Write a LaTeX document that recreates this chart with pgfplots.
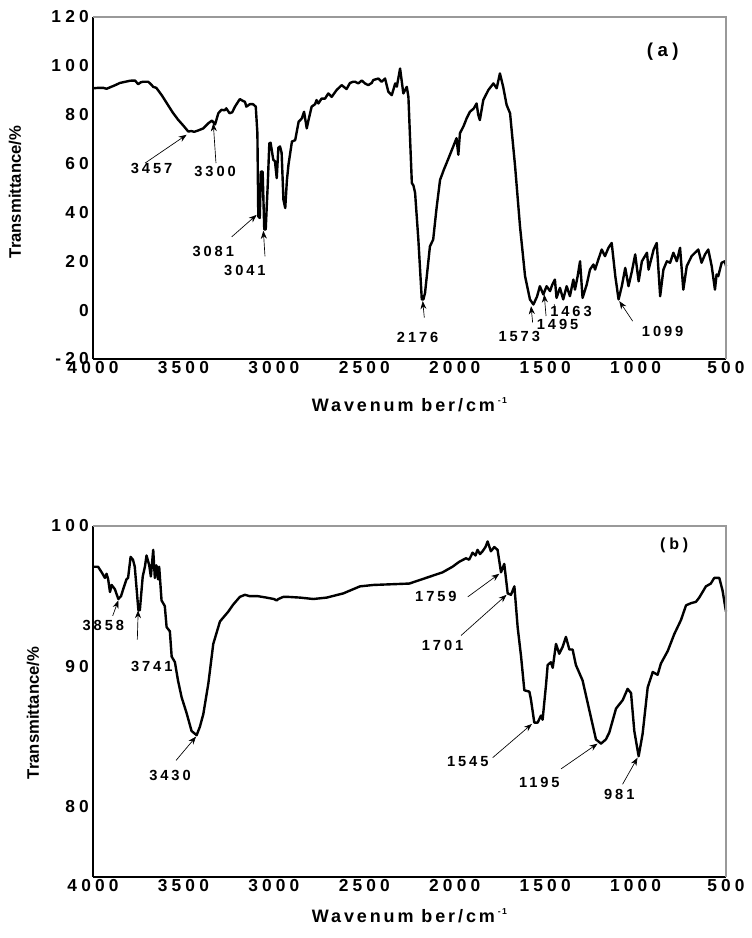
\documentclass[border=0pt]{standalone}
\usepackage{fontspec}
\setmainfont{Liberation Sans}
\newfontfamily\spc{Liberation Sans}[LetterSpace=24]
\newfontfamily\spa{Liberation Sans}[LetterSpace=20]
\newfontfamily\spx{Liberation Sans}[LetterSpace=16]
\usepackage{pgfplots}
\pgfplotsset{compat=1.18}
\usetikzlibrary{arrows.meta}
\newcommand\ann{\spa\bfseries\fontsize{11}{12}\selectfont}
\tikzset{arr/.style={-{Stealth[length=6pt,width=4.5pt]}, line width=0.5pt, black}}
\pgfplotsset{
  ftir/.style={
    scale only axis, width=474.75pt, clip=false,
    x dir=reverse, xmin=500, xmax=4000, xtick={500,1000,...,4000},
    axis x line*=bottom, axis y line*=left,
    axis line style={line width=1.2pt, black},
    major tick length=0pt,
    tick label style={font=\spc\bfseries\fontsize{13}{15}\selectfont},
    /pgf/number format/assume math mode=true,
    /pgf/number format/1000 sep={},
    xticklabel style={inner sep=0pt, anchor=north, yshift=-1.5pt},
    yticklabel style={inner sep=0pt, anchor=east, xshift=-3pt},
    ylabel={\bfseries\fontsize{12.5}{14}\selectfont Transmittance/\%},
    xlabel={\spx\bfseries\fontsize{13.5}{15}\selectfont Wavenum ber/cm\,\raisebox{0.8ex}{\fontsize{6.5}{7}\selectfont -1}},
    after end axis/.code={\draw[black!40, line width=0.8pt] (rel axis cs:0,1) -- (rel axis cs:1,1) -- (rel axis cs:1,0);},
  },
  spec/.style={black, line width=1.8pt, line join=round, mark=none},
}
\begin{document}
\begin{tikzpicture}
\path[use as bounding box] (0,0) rectangle (564pt,703.5pt);
% ---------------- panel (a)
\begin{axis}[ftir, at={(69.75pt,434.25pt)}, anchor=south west, height=256.5pt,
  ymin=-20, ymax=120, ytick={-20,0,...,120},
  ylabel style={at={(axis description cs:0,0.5)}, anchor=center, yshift=58.5pt, xshift=-3pt},
  xlabel style={at={(axis description cs:0.5,0)}, anchor=center, yshift=-34.5pt}]
\addplot[spec] coordinates {
(4000,90.8)(3970,91.0)(3943,91.0)(3925,90.6)(3906,91.2)(3880,92.0)(3851,93.0)(3820,93.5)
(3795,93.9)(3768,94.0)(3750,92.5)(3735,93.3)(3722,93.5)(3695,93.5)(3680,92.5)(3667,91.4)
(3650,91.0)(3620,88.0)(3590,84.5)(3560,81.0)(3530,78.0)(3500,75.5)(3473,73.1)(3457,73.3)
(3440,73.0)(3420,73.5)(3390,74.4)(3362,76.5)(3342,77.6)(3325,76.0)(3307,80.6)(3290,82.0)
(3272,81.8)(3263,82.6)(3245,80.6)(3230,81.0)(3215,83.3)(3188,86.4)(3170,85.6)(3160,85.3)
(3152,83.3)(3133,84.3)(3115,84.3)(3100,83.3)(3091,72.4)(3086,38.4)(3078,37.7)(3071,56.7)
(3062,56.7)(3053,33.0)(3045,33.0)(3034,51.0)(3025,68.3)(3018,68.5)(3003,61.5)(2994,61.0)
(2984,54.0)(2975,66.5)(2966,67.0)(2957,64.4)(2947,45.2)(2937,41.8)(2928,53.0)(2919,59.6)
(2900,69.0)(2882,69.6)(2863,77.1)(2845,78.5)(2833,81.2)(2818,74.4)(2809,77.6)(2791,83.3)
(2772,84.3)(2764,86.0)(2754,84.6)(2736,86.6)(2717,86.6)(2699,88.7)(2680,87.3)(2653,90.1)
(2625,92.1)(2598,90.5)(2579,93.0)(2561,93.5)(2551,93.5)(2533,92.8)(2514,94.0)(2496,92.8)
(2478,92.1)(2459,93.0)(2450,94.2)(2422,94.8)(2404,93.5)(2385,94.8)(2367,89.4)(2348,88.0)
(2329,92.8)(2320,91.5)(2302,98.9)(2284,88.7)(2265,91.4)(2256,87.3)(2237,52.0)(2228,51.0)
(2219,48.0)(2201,28.9)(2182,4.4)(2173,4.4)(2164,7.1)(2137,26.1)(2119,28.9)(2100,42.0)
(2081,53.3)(2060,57.5)(2045,60.2)(2008,67.0)(1990,70.4)(1980,63.6)(1971,72.4)(1950,75.5)
(1934,78.5)(1916,81.2)(1895,82.5)(1879,84.6)(1870,80.0)(1861,77.8)(1842,86.0)(1814,90.1)
(1786,92.8)(1768,90.8)(1750,96.9)(1732,91.4)(1713,84.0)(1694,80.6)(1666,58.8)(1639,34.3)
(1611,13.9)(1584,4.4)(1565,2.3)(1545,5.5)(1529,9.8)(1510,6.4)(1492,9.8)(1473,7.8)
(1460,10.5)(1446,12.5)(1437,5.0)(1418,9.1)(1400,4.4)(1381,9.8)(1363,5.7)(1344,12.5)
(1335,8.4)(1320,14.0)(1307,20.0)(1293,5.0)(1270,10.5)(1252,16.6)(1233,18.7)(1224,16.6)
(1206,20.7)(1187,24.8)(1169,22.1)(1150,25.5)(1132,27.5)(1112,13.9)(1094,4.4)(1076,9.8)
(1057,17.3)(1039,9.8)(1020,16.0)(1002,22.8)(983,11.8)(965,20.0)(937,23.5)(928,16.6)
(900,24.8)(883,27.5)(864,5.7)(846,16.6)(827,20.0)(809,19.4)(791,23.5)(772,20.0)
(754,25.5)(736,8.4)(717,18.0)(690,22.1)(671,23.5)(653,24.8)(635,19.4)(616,22.8)
(598,24.8)(579,18.0)(561,8.4)(552,14.6)(543,13.9)(524,19.4)(506,20.0)(500,18.0)
};
\draw[arr] (axis cs:3712,60.2) -- (axis cs:3482,71.8);
\draw[arr] (axis cs:3320,60.2) -- (axis cs:3335,76.5);
\draw[arr] (axis cs:3233,30) -- (axis cs:3095,39);
\draw[arr] (axis cs:3049,22) -- (axis cs:3058,32.5);
\draw[arr] (axis cs:2168,-3.1) -- (axis cs:2177,3.7);
\draw[arr] (axis cs:1569,-5.1) -- (axis cs:1578,1.6);
\draw[arr] (axis cs:1495,-2.4) -- (axis cs:1505,6.4);
\draw[line width=0.4pt] (axis cs:1443,-0.5) -- (axis cs:1450,2.5);
\draw[arr] (axis cs:1016,-4.5) -- (axis cs:1090,3.7);
\node[font=\ann] at (axis cs:3676,58.1) {3457};
\node[font=\ann] at (axis cs:3325,56.7) {3300};
\node[font=\ann] at (axis cs:3335,24.1) {3081};
\node[font=\ann] at (axis cs:3160,16.3) {3041};
\node[font=\ann] at (axis cs:2205,-11.3) {2176};
\node[font=\ann] at (axis cs:1643,-10.6) {1573};
\node[font=\ann] at (axis cs:1431,-5.8) {1495};
\node[font=\ann] at (axis cs:1357,-0.6) {1463};
\node[font=\ann] at (axis cs:850,-8.6) {1099};
\node[font=\spc\bfseries\fontsize{14}{16}\selectfont] at (axis cs:850,105.7) {(a)};
\end{axis}
% ---------------- panel (b)
\begin{axis}[ftir, at={(69.75pt,45.75pt)}, anchor=south west, height=263.25pt,
  ymin=75, ymax=100, ytick={80,90,100},
  ylabel style={at={(axis description cs:0,0.5)}, anchor=center, yshift=45pt, xshift=-8.6pt},
  xlabel style={at={(axis description cs:0.5,0)}, anchor=center, yshift=-29pt}]
\addplot[spec] coordinates {
(4000,97.1)(3972,97.1)(3952,96.7)(3934,96.3)(3925,96.6)(3916,96.2)(3906,95.3)(3897,95.8)
(3879,95.5)(3860,94.8)(3845,95.0)(3833,95.5)(3815,96.2)(3806,96.3)(3792,97.8)(3779,97.6)
(3769,97.1)(3749,94.0)(3741,94.0)(3725,96.4)(3713,97.1)(3704,97.9)(3689,97.2)(3680,96.4)
(3667,98.3)(3658,96.3)(3649,97.2)(3640,96.2)(3634,97.1)(3621,94.7)(3603,94.3)(3593,92.8)
(3575,92.5)(3565,90.7)(3547,90.3)(3530,89.0)(3510,87.8)(3483,86.7)(3455,85.4)(3427,85.1)
(3409,85.7)(3390,86.6)(3362,88.8)(3335,91.6)(3298,93.2)(3252,93.9)(3225,94.4)(3188,94.95)
(3160,95.1)(3133,95.0)(3087,95.0)(3041,94.9)(3000,94.8)(2984,94.7)(2975,94.8)(2948,94.95)
(2920,94.95)(2855,94.9)(2782,94.8)(2708,94.9)(2616,95.2)(2524,95.7)(2450,95.8)(2251,95.9)
(2067,96.7)(2012,97.1)(1975,97.45)(1938,97.7)(1920,97.6)(1901,98.1)(1885,97.9)(1874,98.3)
(1860,98.0)(1846,98.2)(1830,98.5)(1818,98.9)(1800,98.2)(1781,98.5)(1763,98.3)(1744,96.7)
(1726,97.3)(1707,95.2)(1689,95.1)(1670,95.7)(1652,92.8)(1633,90.7)(1615,88.3)(1587,88.2)
(1578,87.6)(1560,86.0)(1541,86.0)(1523,86.5)(1514,86.2)(1495,88.7)(1486,90.1)(1468,90.3)
(1458,89.9)(1440,91.6)(1422,90.9)(1403,91.4)(1385,92.1)(1366,91.2)(1348,91.2)(1330,90.1)
(1293,89.0)(1256,86.9)(1219,84.8)(1191,84.5)(1164,84.8)(1145,85.3)(1108,87.0)(1071,87.6)
(1044,88.4)(1025,88.1)(1007,85.4)(983,83.6)(961,85.2)(933,88.5)(905,89.6)(878,89.4)
(860,90.2)(822,91.1)(786,92.3)(749,93.3)(721,94.35)(694,94.5)(666,94.6)(648,94.9)
(611,95.7)(584,95.9)(565,96.3)(537,96.3)(519,95.4)(500,93.9)
};
\draw[arr] (axis cs:3891,93.6) -- (axis cs:3860,94.7);
\draw[arr] (axis cs:3755,91.9) -- (axis cs:3750,94.0);
\draw[arr] (axis cs:3541,83.3) -- (axis cs:3430,85.0);
\draw[arr] (axis cs:1928,94.95) -- (axis cs:1753,96.6);
\draw[arr] (axis cs:1965,92.2) -- (axis cs:1713,95.1);
\draw[arr] (axis cs:1790,83.5) -- (axis cs:1573,85.9);
\draw[arr] (axis cs:1412,82.7) -- (axis cs:1210,84.5);
\draw[arr] (axis cs:1072,81.6) -- (axis cs:989,83.5);
\node[font=\ann] at (axis cs:3943,92.9) {3858};
\node[font=\ann] at (axis cs:3675,90.0) {3741};
\node[font=\ann] at (axis cs:3574,82.2) {3430};
\node[font=\ann] at (axis cs:2104,94.95) {1759};
\node[font=\ann] at (axis cs:2067,91.5) {1701};
\node[font=\ann] at (axis cs:1928,83.2) {1545};
\node[font=\ann] at (axis cs:1532,81.7) {1195};
\node[font=\ann] at (axis cs:1090,80.9) {981};
\node[font=\spc\bfseries\fontsize{12}{14}\selectfont] at (axis cs:786,98.6) {(b)};
\end{axis}
\end{tikzpicture}
\end{document}
